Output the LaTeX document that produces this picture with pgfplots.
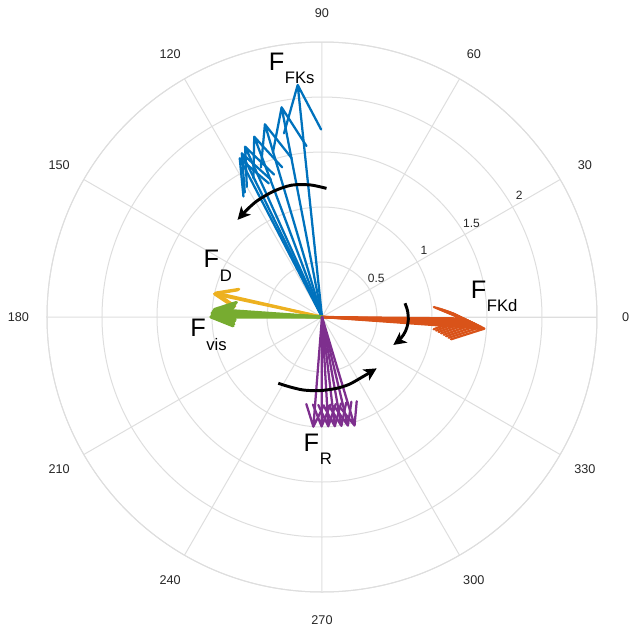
\documentclass[border=0pt]{standalone}
\usepackage{fontspec}
\setmainfont{Liberation Sans}
\usepackage{pgfplots}
\pgfplotsset{compat=1.18}
\usepgfplotslibrary{polar}
\usetikzlibrary{arrows.meta}
\definecolor{gridc}{RGB}{222,222,222}
\definecolor{labc}{RGB}{38,38,38}
\definecolor{cblue}{RGB}{0,114,189}
\definecolor{corange}{RGB}{217,83,25}
\definecolor{cyellow}{RGB}{237,177,32}
\definecolor{cpurple}{RGB}{126,47,142}
\definecolor{cgreen}{RGB}{119,172,48}
\newcommand{\FL}[1]{{\fontsize{19}{19}\selectfont F}\kern0.5pt\raisebox{-10pt}{\fontsize{12.5}{12.5}\selectfont #1}}
\begin{document}
\begin{tikzpicture}
\begin{polaraxis}[
  scale only axis, width=412.5pt, height=412.5pt,
  ymin=0, ymax=2.5,
  xtick={0,30,60,90,120,150,180,210,240,270,300,330},
  ytick={0.5,1,1.5,2,2.5},
  xticklabels={}, yticklabels={},
  grid=major,
  grid style={draw=gridc, line width=0.75pt},
  axis line style={draw=gridc, line width=0.75pt},
  major tick length=0pt,
  clip=false,
  arr/.style={line width=1.7pt, line join=round, line cap=round, mark=none},
  curv/.style={black, line width=2.2pt, smooth, mark=none, -{Stealth[length=9.5pt,width=9.5pt,inset=2.5pt]}},
]
\coordinate (c) at (axis cs:0,0);
% F_FKs (blue)
\addplot[arr, cblue] coordinates {(0,0) (95.98,2.121) (101.69,1.705) (95.98,2.121) (90.27,1.705)};
\addplot[arr, cblue] coordinates {(0,0) (100.9,1.941) (106.61,1.561) (100.9,1.941) (95.19,1.561)};
\addplot[arr, cblue] coordinates {(0,0) (106.5,1.827) (112.21,1.469) (106.5,1.827) (100.79,1.469)};
\addplot[arr, cblue] coordinates {(0,0) (110.6,1.751) (116.31,1.408) (110.6,1.751) (104.89,1.408)};
\addplot[arr, cblue] coordinates {(0,0) (114.3,1.699) (120.01,1.366) (114.3,1.699) (108.59,1.366)};
\addplot[arr, cblue] coordinates {(0,0) (116.1,1.657) (121.81,1.332) (116.1,1.657) (110.39,1.332)};
\addplot[arr, cblue] coordinates {(0,0) (117.4,1.625) (123.11,1.307) (117.4,1.625) (111.69,1.307)};
% F_FKd (orange)
\addplot[arr, corange] coordinates {(0,0) (-0.6,1.27) (5.11,1.021) (-0.6,1.27) (-6.31,1.021)};
\addplot[arr, corange] coordinates {(0,0) (-1.1,1.30) (4.61,1.045) (-1.1,1.30) (-6.81,1.045)};
\addplot[arr, corange] coordinates {(0,0) (-1.6,1.33) (4.11,1.069) (-1.6,1.33) (-7.31,1.069)};
\addplot[arr, corange] coordinates {(0,0) (-2.1,1.36) (3.61,1.093) (-2.1,1.36) (-7.81,1.093)};
\addplot[arr, corange] coordinates {(0,0) (-2.6,1.39) (3.11,1.118) (-2.6,1.39) (-8.31,1.118)};
\addplot[arr, corange] coordinates {(0,0) (-3.1,1.42) (2.61,1.142) (-3.1,1.42) (-8.81,1.142)};
\addplot[arr, corange] coordinates {(0,0) (-3.6,1.45) (2.11,1.166) (-3.6,1.45) (-9.31,1.166)};
\addplot[arr, corange] coordinates {(0,0) (-4.1,1.48) (1.61,1.190) (-4.1,1.48) (-9.81,1.190)};
% F_D (yellow)
\addplot[arr, cyellow, line width=2.1pt] coordinates {(0,0) (167.2,0.99) (172.91,0.796) (167.2,0.99) (161.49,0.796)};
\addplot[arr, cyellow, line width=2.1pt] coordinates {(0,0) (167.9,1.00) (173.61,0.804) (167.9,1.00) (162.19,0.804)};
% F_vis (green)
\addplot[arr, cgreen, line width=2.3pt] coordinates {(0,0) (176,0.98) (181.71,0.788) (176,0.98) (170.29,0.788)};
\addplot[arr, cgreen, line width=2.3pt] coordinates {(0,0) (177,0.99) (182.71,0.796) (177,0.99) (171.29,0.796)};
\addplot[arr, cgreen, line width=2.3pt] coordinates {(0,0) (178,1.00) (183.71,0.804) (178,1.00) (172.29,0.804)};
\addplot[arr, cgreen, line width=2.3pt] coordinates {(0,0) (179,1.00) (184.71,0.804) (179,1.00) (173.29,0.804)};
\addplot[arr, cgreen, line width=2.3pt] coordinates {(0,0) (180,1.01) (185.71,0.812) (180,1.01) (174.29,0.812)};
% F_R (purple)
\addplot[arr, cpurple] coordinates {(0,0) (265.5,1.000) (271.21,0.804) (265.5,1.000) (259.79,0.804)};
\addplot[arr, cpurple] coordinates {(0,0) (269.8,0.995) (275.51,0.800) (269.8,0.995) (264.09,0.800)};
\addplot[arr, cpurple] coordinates {(0,0) (273.3,0.995) (279.01,0.800) (273.3,0.995) (267.59,0.800)};
\addplot[arr, cpurple] coordinates {(0,0) (276.7,1.000) (282.41,0.804) (276.7,1.000) (270.99,0.804)};
\addplot[arr, cpurple] coordinates {(0,0) (280.1,1.005) (285.81,0.808) (280.1,1.005) (274.39,0.808)};
\addplot[arr, cpurple] coordinates {(0,0) (283.4,1.015) (289.11,0.816) (283.4,1.015) (277.69,0.816)};
\addplot[arr, cpurple] coordinates {(0,0) (286.7,1.030) (292.41,0.828) (286.7,1.030) (280.99,0.828)};
% rotation arrows
\addplot[curv] coordinates {(88,1.17) (95,1.205) (103,1.23) (111,1.225) (119,1.21) (125,1.19) (131,1.17)};
\addplot[curv] coordinates {(9.4,0.765) (4,0.78) (-2,0.785) (-7,0.778) (-12,0.76) (-17,0.73) (-21.4,0.696)};
\addplot[curv] coordinates {(236.6,0.722) (245,0.70) (255.6,0.685) (268,0.67) (281.6,0.662) (292,0.66) (301.8,0.656) (310,0.665) (316.8,0.682)};
% angle labels
\foreach \a in {0,30,60,90,120,150,180,210,240,270,300,330}{
  \edef\temp{\noexpand\node[font=\noexpand\fontsize{9.5}{11}\noexpand\selectfont, text=labc, inner sep=0pt] at (axis cs:\a,2.76) {\a};}
  \temp
}
% radial labels
\foreach \r in {0.5,1,1.5,2}{
  \edef\temp{\noexpand\node[font=\noexpand\fontsize{9}{10}\noexpand\selectfont, text=labc, inner sep=0pt, xshift=5pt, yshift=8.5pt] at (axis cs:30,\r) {\r};}
  \temp
}
\end{polaraxis}
\node[anchor=base west, inner sep=0pt] at ([shift={(111.4pt,14pt)}]c) {\FL{FKd}};
\node[anchor=base west, inner sep=0pt] at ([shift={(-40.1pt,184.9pt)}]c) {\FL{FKs}};
\node[anchor=base west, inner sep=0pt] at ([shift={(-88.9pt,36.75pt)}]c) {\FL{D}};
\node[anchor=base west, inner sep=0pt] at ([shift={(-99pt,-14.8pt)}]c) {\FL{vis}};
\node[anchor=base west, inner sep=0pt] at ([shift={(-13.9pt,-100.9pt)}]c) {\FL{R}};
\path (c) ++(-241.5pt,-231.75pt) rectangle ++(477pt,469.5pt);
\end{tikzpicture}
\end{document}
